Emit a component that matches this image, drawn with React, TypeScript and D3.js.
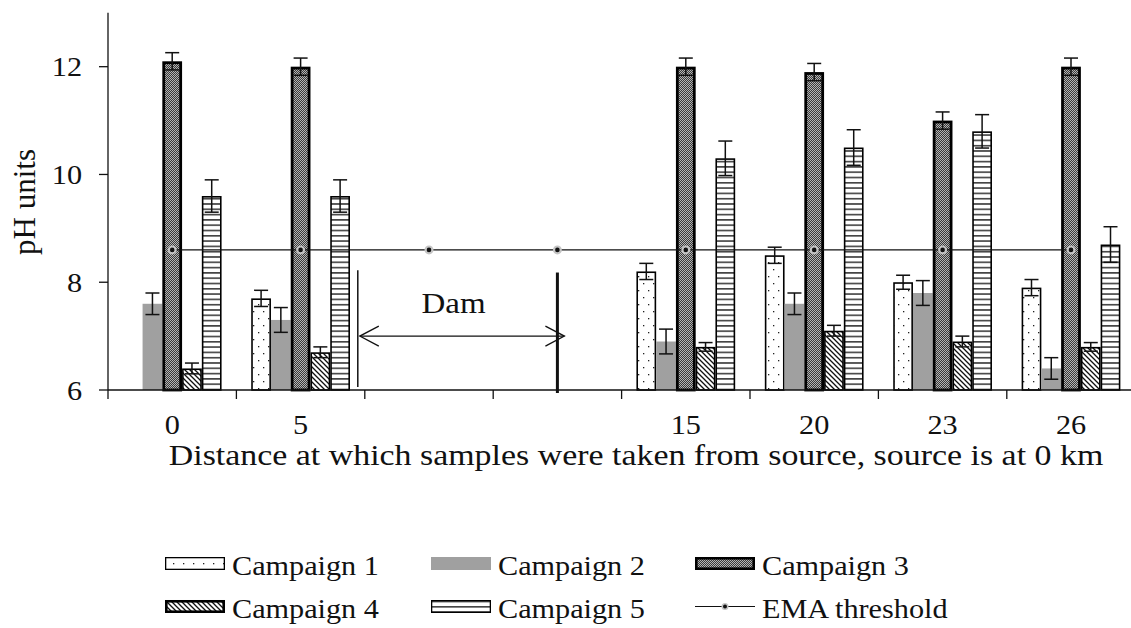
import React from "react";
import * as d3 from "d3";

// Sampling points along the river (km from source); the two blank slots hold the dam stretch
const categoryLabels = ["0", "5", "", "", "15", "20", "23", "26"];
const seriesNames = ["Campaign 1", "Campaign 2", "Campaign 3", "Campaign 4", "Campaign 5"];

// Mean pH per campaign (NaN = no sample)
const campaign1 = [NaN, 7.7, NaN, NaN, 8.2, 8.5, 8.0, 7.9];
const campaign2 = [7.6, 7.3, NaN, NaN, 6.9, 7.6, 7.8, 6.4];
const campaign3 = [12.1, 12.0, NaN, NaN, 12.0, 11.9, 11.0, 12.0];
const campaign4 = [6.4, 6.7, NaN, NaN, 6.8, 7.1, 6.9, 6.8];
const campaign5 = [9.6, 9.6, NaN, NaN, 10.3, 10.5, 10.8, 8.7];

// Standard deviations for the error bars
const err1 = [NaN, 0.15, NaN, NaN, 0.15, 0.15, 0.13, 0.15];
const err2 = [0.2, 0.23, NaN, NaN, 0.23, 0.2, 0.23, 0.2];
const err3 = [0.16, 0.16, NaN, NaN, 0.16, 0.16, 0.16, 0.16];
const err4 = [0.1, 0.1, NaN, NaN, 0.08, 0.1, 0.1, 0.08];
const err5 = [0.3, 0.3, NaN, NaN, 0.32, 0.33, 0.31, 0.33];

// EMA discharge threshold
const emaThreshold = [8.6, 8.6, 8.6, 8.6, 8.6, 8.6, 8.6, 8.6];

const yTicks = [6, 8, 10, 12];

const W = 1131;
const H = 628;
const FONT = "'Liberation Serif', 'Times New Roman', serif";

const values = [campaign1, campaign2, campaign3, campaign4, campaign5];
const errors = [err1, err2, err3, err4, err5];

const fills = ["url(#pDots)", "#a0a0a0", "url(#pDense)", "url(#pDiag)", "url(#pHoriz)"];
const strokes = ["#000", "none", "#000", "#000", "#000"];
const strokeWidths = [1.6, 0, 2.8, 1.6, 1.6];

function SText({ x, y, size, sx = 1.1, anchor = "start", children }: any) {
  return (
    <text
      transform={`translate(${x},${y}) scale(${sx},1)`}
      textAnchor={anchor}
      fontFamily={FONT}
      fontSize={size}
      fill="#111"
    >
      {children}
    </text>
  );
}

export default function App() {
  const x = d3
    .scaleBand<number>()
    .domain(d3.range(categoryLabels.length))
    .range([108, 108 + categoryLabels.length * 128.4])
    .padding(0);
  const y = d3.scaleLinear().domain([6, 13]).range([390, 12.8]);
  const step = x.bandwidth();
  const barW = step / 6.5;
  const barX = (i: number, s: number) => (x(i) as number) + 0.75 * barW + s * barW;
  const cx = (i: number) => (x(i) as number) + step / 2;

  const emaLine = d3
    .line<number>()
    .x((_, i) => cx(i))
    .y((d) => y(d))(emaThreshold) as string;

  const axisEnd = x.range()[1];

  // Dam annotation geometry derived from the blank slots
  const damLeft = (x(2) as number) - 7;
  const damRight = cx(3);
  const arrowY = y(7.0);

  const legendCols = [165, 431, 695];
  const legendRows = [557, 600];
  const swW = 60;
  const swH = 13;

  return (
    <svg
      width={W}
      height={H}
      style={{ position: "absolute", left: 0, top: 0, background: "#fff" }}
    >
      <defs>
        <pattern id="pDots" width="10" height="14" patternUnits="userSpaceOnUse">
          <rect width="10" height="14" fill="#fff" />
          <rect x="3" y="3" width="1.3" height="1.3" fill="#222" />
          <rect x="8" y="10" width="1.3" height="1.3" fill="#222" />
        </pattern>
        <pattern id="pDense" width="2" height="2" patternUnits="userSpaceOnUse">
          <rect width="2" height="2" fill="#3a3a3a" />
          <rect x="0" y="0" width="1" height="1" fill="#b4b4b4" />
          <rect x="1" y="1" width="1" height="1" fill="#b4b4b4" />
        </pattern>
        <pattern id="pDiag" width="5" height="5" patternUnits="userSpaceOnUse">
          <rect width="5" height="5" fill="#fff" />
          <path d="M-1,-1 L6,6 M-1,4 L1,6 M4,-1 L6,1" stroke="#111" strokeWidth="1.3" />
        </pattern>
        <pattern id="pHoriz" width="6" height="5.3" patternUnits="userSpaceOnUse">
          <rect width="6" height="5.3" fill="#fff" />
          <line x1="0" x2="6" y1="2.6" y2="2.6" stroke="#111" strokeWidth="1.3" />
        </pattern>
      </defs>

      {/* Bars */}
      {values.map((series, s) =>
        series.map((v, i) =>
          isNaN(v) ? null : (
            <rect
              key={`b${s}-${i}`}
              x={barX(i, s) + strokeWidths[s] / 2}
              y={y(v) + strokeWidths[s] / 2}
              width={barW - strokeWidths[s]}
              height={y(6) - y(v) - strokeWidths[s] / 2}
              fill={fills[s]}
              stroke={strokes[s]}
              strokeWidth={strokeWidths[s]}
            />
          )
        )
      )}

      {/* EMA threshold line */}
      <path d={emaLine} fill="none" stroke="#111" strokeWidth={1.2} />
      {emaThreshold.map((v, i) => (
        <g key={`m${i}`}>
          <circle cx={cx(i)} cy={y(v)} r={4.5} fill="#c4c4c4" />
          <circle cx={cx(i)} cy={y(v)} r={2.3} fill="#111" />
        </g>
      ))}

      {/* Error bars */}
      {values.map((series, s) =>
        series.map((v, i) => {
          const e = errors[s][i];
          if (isNaN(v) || isNaN(e)) return null;
          const c = barX(i, s) + barW / 2;
          return (
            <g key={`e${s}-${i}`} stroke="#111" strokeWidth={1.5}>
              <line x1={c} x2={c} y1={y(v + e)} y2={y(v - e)} />
              <line x1={c - 7} x2={c + 7} y1={y(v + e)} y2={y(v + e)} />
              <line x1={c - 7} x2={c + 7} y1={y(v - e)} y2={y(v - e)} />
            </g>
          );
        })
      )}

      {/* Axes */}
      <line x1={108} x2={108} y1={y(13)} y2={y(6)} stroke="#111" strokeWidth={1.3} />
      {yTicks.map((t) => (
        <g key={`yt${t}`}>
          <line x1={99} x2={108} y1={y(t)} y2={y(t)} stroke="#111" strokeWidth={1.3} />
          <SText x={82} y={y(t) + 9.5} size={27.5} anchor="end">
            {t}
          </SText>
        </g>
      ))}
      <line x1={108} x2={axisEnd} y1={y(6)} y2={y(6)} stroke="#111" strokeWidth={1.3} />
      {d3.range(categoryLabels.length + 1).map((i) => {
        const tx = i < categoryLabels.length ? (x(i) as number) : axisEnd;
        return (
          <line key={`xt${i}`} x1={tx} x2={tx} y1={y(6)} y2={y(6) + 9} stroke="#111" strokeWidth={1.3} />
        );
      })}
      {categoryLabels.map((l, i) =>
        l ? (
          <SText key={`xl${i}`} x={cx(i)} y={434} size={27.5} anchor="middle">
            {l}
          </SText>
        ) : null
      )}

      {/* Axis titles */}
      <SText x={636} y={465} size={30} sx={1.13} anchor="middle">
        Distance at which samples were taken from source, source is at 0 km
      </SText>
      <text
        transform={`translate(35,202) rotate(-90)`}
        textAnchor="middle"
        fontFamily={FONT}
        fontSize={31}
        fill="#111"
      >
        pH units
      </text>

      {/* Dam annotation */}
      <line x1={damLeft} x2={damLeft} y1={y(8.22)} y2={y(6) - 3} stroke="#111" strokeWidth={1.5} />
      <line x1={damRight} x2={damRight} y1={y(8.18)} y2={y(6) + 3} stroke="#111" strokeWidth={3} />
      <g stroke="#111" strokeWidth={1.3} fill="none">
        <line x1={damLeft + 2} x2={damRight + 7} y1={arrowY} y2={arrowY} />
        <path d={`M${damLeft + 21},${arrowY - 10} L${damLeft + 2},${arrowY} L${damLeft + 21},${arrowY + 10}`} />
        <path d={`M${damRight - 12},${arrowY - 10} L${damRight + 7},${arrowY} L${damRight - 12},${arrowY + 10}`} />
      </g>
      <SText x={(damLeft + damRight) / 2 - 4} y={313} size={30} anchor="middle">
        Dam
      </SText>

      {/* Legend */}
      {seriesNames.map((name, s) => {
        const col = s < 3 ? s : s - 3;
        const row = s < 3 ? 0 : 1;
        const lx = legendCols[col];
        const ly = legendRows[row];
        const sw = s === 2 || s === 3 ? 2.6 : s === 1 ? 0 : 1.3;
        return (
          <g key={`lg${s}`}>
            <rect
              x={lx + sw / 2}
              y={ly + sw / 2}
              width={swW - sw}
              height={swH - sw}
              fill={fills[s]}
              stroke={strokes[s]}
              strokeWidth={sw}
            />
            <SText x={lx + 67} y={ly + 18} size={28} sx={1.08}>
              {name}
            </SText>
          </g>
        );
      })}
      <g>
        <line
          x1={legendCols[2]}
          x2={legendCols[2] + swW}
          y1={legendRows[1] + swH / 2}
          y2={legendRows[1] + swH / 2}
          stroke="#111"
          strokeWidth={1.2}
        />
        <circle cx={legendCols[2] + swW / 2} cy={legendRows[1] + swH / 2} r={3.5} fill="#c4c4c4" />
        <circle cx={legendCols[2] + swW / 2} cy={legendRows[1] + swH / 2} r={2} fill="#111" />
        <SText x={legendCols[2] + 67} y={legendRows[1] + 18} size={28} sx={1.08}>
          EMA threshold
        </SText>
      </g>
    </svg>
  );
}
